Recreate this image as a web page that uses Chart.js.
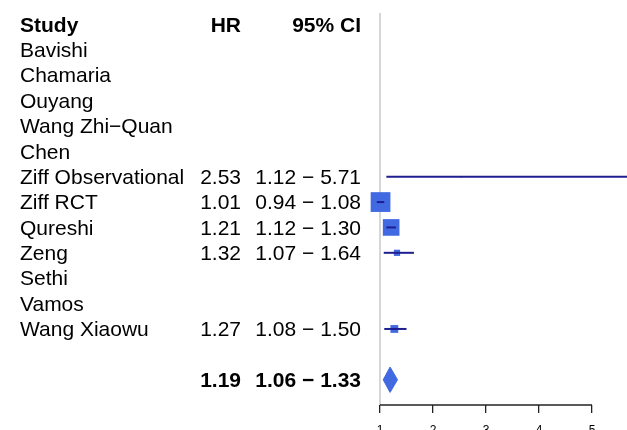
<!DOCTYPE html>
<html>
<head>
<meta charset="utf-8">
<script src="https://cdn.jsdelivr.net/npm/chart.js@4.4.1/dist/chart.umd.min.js"></script>
<style>
  html, body { margin: 0; padding: 0; background: #ffffff; }
  #wrap { width: 627px; height: 430px; }
</style>
</head>
<body>
<div id="wrap"><canvas id="c" width="627" height="430"></canvas></div>
<script>
// ---- data ----
const headers = ['Study', 'HR', '95% CI'];
const studies = ['Bavishi', 'Chamaria', 'Ouyang', 'Wang Zhi\u2212Quan', 'Chen', 'Ziff Observational',
                 'Ziff RCT', 'Qureshi', 'Zeng', 'Sethi', 'Vamos', 'Wang Xiaowu'];
const hr    = [null, null, null, null, null, 2.53, 1.01, 1.21, 1.32, null, null, 1.27];
const lower = [null, null, null, null, null, 1.12, 0.94, 1.12, 1.07, null, null, 1.08];
const upper = [null, null, null, null, null, 5.71, 1.08, 1.30, 1.64, null, null, 1.50];
const weights = [null, null, null, null, null, 3, 38, 32, 12, null, null, 15]; // estimated % weights
const pooledHR = 1.19;
const pooledLower = 1.06;
const pooledUpper = 1.33;
const xTicks = [1, 2, 3, 4, 5];
const nullValue = 1;

// ---- layout helpers ----
const rowOf = i => i + 1;          // study rows start under the header
const summaryRow = studies.length + 2;
const FONT = '"Liberation Sans", Arial, Helvetica, sans-serif';
const BOX = '#4169E1';
const LINE = '#1e1e90';

const fmt = v => v.toFixed(2);

const datasets = [];

// reference line at HR = 1
datasets.push({
  data: [{x: nullValue, y: -0.45}, {x: nullValue, y: 15.2}],
  showLine: true, borderColor: '#d6d6d6', borderWidth: 2, pointRadius: 0, order: 5
});

// CI lines
studies.forEach((s, i) => {
  if (hr[i] == null) return;
  datasets.push({
    data: [{x: lower[i], y: rowOf(i)}, {x: upper[i], y: rowOf(i)}],
    showLine: true, borderColor: LINE, borderWidth: 2, pointRadius: 0, order: 0
  });
});

// boxes
const boxPts = [], boxR = [];
studies.forEach((s, i) => {
  if (hr[i] == null) return;
  boxPts.push({x: hr[i], y: rowOf(i)});
  boxR.push(weights[i] * 0.52 / Math.SQRT2);
});
datasets.push({
  data: boxPts, pointStyle: 'rect', pointRadius: boxR, pointBackgroundColor: BOX,
  pointBorderWidth: 0, pointBorderColor: BOX, showLine: false, order: 1
});

// summary diamond
datasets.push({
  data: [
    {x: pooledLower, y: summaryRow},
    {x: pooledHR, y: summaryRow - 0.5},
    {x: pooledUpper, y: summaryRow},
    {x: pooledHR, y: summaryRow + 0.5},
    {x: pooledLower, y: summaryRow}
  ],
  showLine: true, fill: 'shape', backgroundColor: BOX, borderColor: BOX, borderWidth: 1,
  pointRadius: 0, tension: 0, order: 0
});

const textPlugin = {
  id: 'forestText',
  afterDraw(chart) {
    const {ctx, scales: {x, y}} = chart;
    ctx.save();
    // axis line from first to last tick
    const yb = chart.chartArea.bottom;
    ctx.strokeStyle = '#222';
    ctx.lineWidth = 1.3;
    ctx.beginPath();
    ctx.moveTo(x.getPixelForValue(xTicks[0]), yb);
    ctx.lineTo(x.getPixelForValue(xTicks[xTicks.length - 1]), yb);
    ctx.stroke();

    ctx.fillStyle = '#000';
    ctx.textBaseline = 'middle';
    const colStudy = 20, colHR = 241, colCI = 361;
    const put = (t, px, row, align, bold) => {
      ctx.font = (bold ? 'bold ' : '') + '21px ' + FONT;
      ctx.textAlign = align;
      ctx.fillText(t, px, y.getPixelForValue(row) + 1.5);
    };
    put(headers[0], colStudy, 0, 'left', true);
    put(headers[1], colHR, 0, 'right', true);
    put(headers[2], colCI, 0, 'right', true);
    studies.forEach((s, i) => {
      put(s, colStudy, rowOf(i), 'left', false);
      if (hr[i] != null) {
        put(fmt(hr[i]), colHR, rowOf(i), 'right', false);
        put(fmt(lower[i]) + ' \u2212 ' + fmt(upper[i]), colCI, rowOf(i), 'right', false);
      }
    });
    put(fmt(pooledHR), colHR, summaryRow, 'right', true);
    put(fmt(pooledLower) + ' \u2212 ' + fmt(pooledUpper), colCI, summaryRow, 'right', true);
    ctx.restore();
  }
};

new Chart(document.getElementById('c'), {
  type: 'scatter',
  data: { datasets },
  plugins: [textPlugin],
  options: {
    responsive: false,
    animation: false,
    events: [],
    layout: { padding: 0, autoPadding: false },
    plugins: { legend: { display: false }, tooltip: { enabled: false } },
    scales: {
      x: {
        type: 'linear', position: 'bottom',
        min: -6.17, max: 5.66,
        afterBuildTicks: s => { s.ticks = xTicks.map(v => ({value: v})); },
        afterFit: s => { s.height = 25; },
        border: { display: false },
        grid: { drawOnChartArea: false, drawTicks: true, tickLength: 8, color: '#222', lineWidth: 1.3 },
        ticks: { autoSkip: false, maxRotation: 0, padding: 10, color: '#000',
                 font: { family: FONT, size: 12 },
                 callback: v => String(v) }
      },
      y: {
        type: 'linear', display: false, reverse: true,
        min: -0.961, max: 14.996
      }
    }
  }
});
</script>
</body>
</html>
